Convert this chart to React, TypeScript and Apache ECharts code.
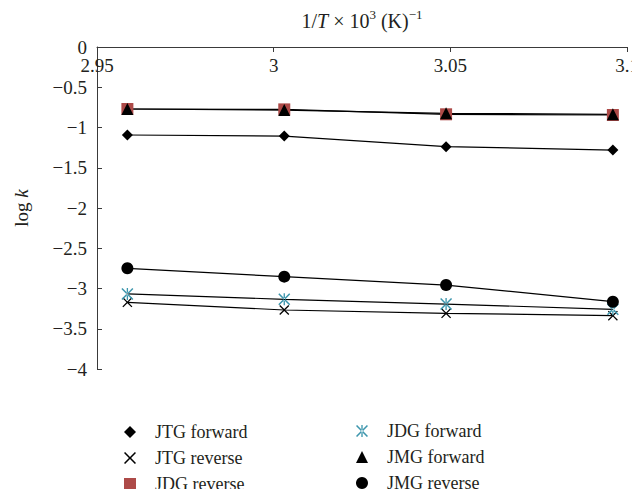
import React, { useEffect, useRef } from "react";
import * as echarts from "echarts";

const xValues = [2.9586, 3.003, 3.0488, 3.096];
const seriesNames = ["JTG forward", "JTG reverse", "JDG reverse", "JDG forward", "JMG forward", "JMG reverse"];
const jtgForward = [-1.093, -1.106, -1.238, -1.28];
const jtgReverse = [-3.172, -3.267, -3.308, -3.338];
const jdgReverse = [-0.77, -0.775, -0.836, -0.845];
const jdgForward = [-3.068, -3.134, -3.193, -3.259];
const jmgForward = [-0.77, -0.783, -0.824, -0.836];
const jmgReverse = [-2.749, -2.853, -2.957, -3.164];
const xTicks = { min: 2.95, max: 3.1, interval: 0.05 };
const yTicks = { min: -4, max: 0, interval: 0.5 };

const X_PATH =
  "path://M0,0.9 L0.9,0 L5,4.1 L9.1,0 L10,0.9 L5.9,5 L10,9.1 L9.1,10 L5,5.9 L0.9,10 L0,9.1 L4.1,5 Z";
const AST_PATH =
  "path://M0,0.9 L0.9,0 L5,4.1 L9.1,0 L10,0.9 L5.9,5 L10,9.1 L9.1,10 L5,5.9 L0.9,10 L0,9.1 L4.1,5 Z M4.45,0 L4.45,10 L5.55,10 L5.55,0 Z";

const FONT = "Liberation Serif";
const TEXT = "#231f20";

export default function App() {
  const ref = useRef<HTMLDivElement>(null);
  useEffect(() => {
    if (!ref.current) return;
    const chart = echarts.init(ref.current, null, { renderer: "svg" });
    const values = [jtgForward, jtgReverse, jdgReverse, jdgForward, jmgForward, jmgReverse];
    const symbols = ["diamond", X_PATH, "rect", AST_PATH, "triangle", "circle"];
    const sizes = [11, 10, 12, 12, 12, 12];
    const colors = ["#000000", "#000000", "#ad4a48", "#3d96ad", "#000000", "#000000"];
    const toPts = (arr: number[]) => arr.map((v, i) => [xValues[i], v]);

    const lineSeries = values.map((arr, k) => ({
      name: seriesNames[k] + " line",
      type: "line",
      data: toPts(arr),
      showSymbol: false,
      silent: true,
      z: 1,
      lineStyle: { color: "#000", width: 1.2 },
      itemStyle: { color: "#000" },
    }));
    const scatterSeries = values.map((arr, k) => ({
      name: seriesNames[k],
      type: "scatter",
      data: toPts(arr),
      symbol: symbols[k],
      symbolSize: sizes[k],
      z: 3,
      itemStyle: { color: colors[k], opacity: 1 },
    }));

    const legendBase = {
      orient: "vertical",
      itemWidth: 12,
      itemHeight: 12,
      itemGap: 6,
      padding: 0,
      selectedMode: false,
      textStyle: {
        fontFamily: FONT,
        fontSize: 18,
        color: TEXT,
        lineHeight: 20,
        padding: [0, 0, 0, 14],
      },
    };

    chart.setOption({
      animation: false,
      backgroundColor: "#fff",
      textStyle: { fontFamily: FONT },
      grid: { left: 97, right: 13, top: 47, height: 322, outerBoundsMode: "none", containLabel: false },
      xAxis: {
        type: "value",
        position: "top",
        min: xTicks.min,
        max: xTicks.max,
        interval: xTicks.interval,
        name: "{n|1/}{i|T}{n| × 10}{s|3}{n| (K)}{s|−1}",
        nameLocation: "middle",
        nameGap: 14,
        nameTextStyle: {
          fontFamily: FONT,
          fontSize: 20,
          color: TEXT,
          rich: {
            n: { fontFamily: FONT, fontSize: 20, color: TEXT, lineHeight: 25 },
            i: { fontFamily: FONT, fontSize: 20, color: TEXT, fontStyle: "italic", lineHeight: 25 },
            s: { fontFamily: FONT, fontSize: 13, color: TEXT, verticalAlign: "top", lineHeight: 16 },
          },
        },
        axisLine: { onZero: false, lineStyle: { color: "#3a3a3a", width: 1 } },
        axisTick: { inside: true, length: 5, lineStyle: { color: "#3a3a3a" } },
        axisLabel: {
          inside: true,
          margin: 9,
          fontFamily: FONT,
          fontSize: 19,
          color: TEXT,
          overflow: "none",
          formatter: (v: number) => String(Number(v.toFixed(2))),
        },
        splitLine: { show: false },
      },
      yAxis: {
        type: "value",
        min: yTicks.min,
        max: yTicks.max,
        interval: yTicks.interval,
        name: "{n|log }{i|k}",
        nameLocation: "middle",
        nameGap: 66,
        nameTextStyle: {
          fontFamily: FONT,
          fontSize: 19,
          color: TEXT,
          rich: {
            n: { fontFamily: FONT, fontSize: 19, color: TEXT },
            i: { fontFamily: FONT, fontSize: 19, color: TEXT, fontStyle: "italic" },
          },
        },
        axisLine: { onZero: false, lineStyle: { color: "#3a3a3a", width: 1 } },
        axisTick: { inside: true, length: 5, lineStyle: { color: "#3a3a3a" } },
        axisLabel: {
          margin: 10,
          fontFamily: FONT,
          fontSize: 19,
          color: TEXT,
          formatter: (v: number) => {
            const r = Number(v.toFixed(2));
            return r === 0 ? "0" : String(r).replace("-", "−");
          },
        },
        splitLine: { show: false },
      },
      legend: [
        { ...legendBase, left: 124, top: 422, data: seriesNames.slice(0, 3) },
        { ...legendBase, left: 356, top: 421, data: seriesNames.slice(3, 6) },
      ],
      series: [...lineSeries, ...scatterSeries],
    });
    return () => chart.dispose();
  }, []);
  return <div ref={ref} style={{ width: 640, height: 497, margin: -8 }} />;
}
